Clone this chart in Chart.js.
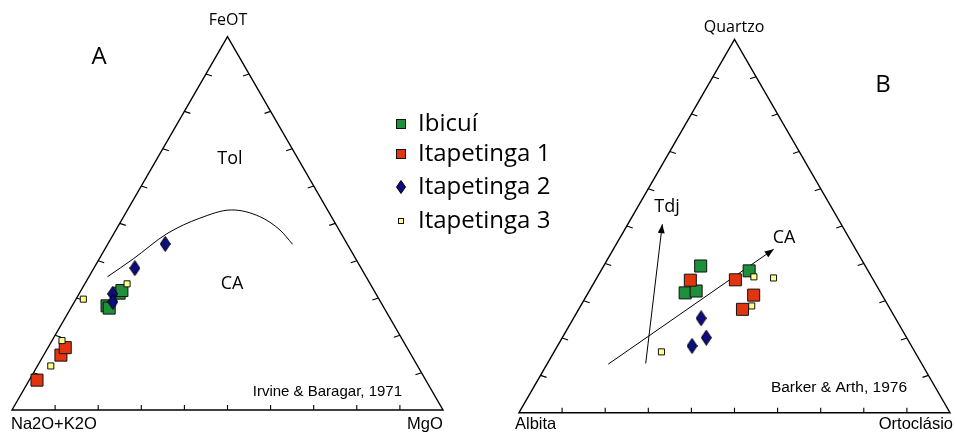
<!DOCTYPE html>
<html>
<head>
<meta charset="utf-8">
<script src="https://cdn.jsdelivr.net/npm/chart.js@4/dist/chart.umd.min.js"></script>
<style>
  html, body { margin: 0; padding: 0; background: #fff; }
  #tern { display: block; }
</style>
</head>
<body>
<canvas id="tern" width="955" height="432"></canvas>
<script>
// series names (legend order)
const seriesNames = ["Ibicuí", "Itapetinga 1", "Itapetinga 2", "Itapetinga 3"];

// diagram A (AFM): [Na2O+K2O, FeOT, MgO] in %
const ibicuiA = [[64.0, 27.9, 8.1], [63.8, 27.3, 8.9], [59.5, 31.3, 9.2], [58.5, 32.0, 9.5]];
const itap1A = [[90.2, 8.0, 1.8], [81.3, 14.7, 4.0], [79.3, 16.7, 4.0]];
const itap2A = [[42.2, 44.5, 13.3], [52.5, 38.0, 9.5], [61.1, 31.1, 7.8], [62.1, 29.0, 8.9]];
const itap3A = [[68.6, 29.7, 1.7], [79.1, 18.6, 2.3], [85.1, 11.8, 3.1], [56.4, 33.8, 9.8]];
// Irvine & Baragar (1971) tholeiitic / calc-alkaline divide
const irvineLine = [[60.0, 35.7, 4.3], [51.6, 40.5, 7.9], [40.5, 47.2, 12.3], [30.7, 51.4, 17.9],
  [22.2, 53.6, 24.2], [16.6, 51.8, 31.6], [13.7, 48.2, 38.1], [12.7, 44.4, 42.9]];

// diagram B: [Albita, Quartzo, Ortoclasio] in %
const ibicuiB = [[38.2, 39.3, 22.5], [45.4, 32.1, 22.5], [42.6, 32.6, 24.8], [27.6, 38.0, 34.4]];
const itap1B = [[42.5, 35.5, 22.0], [32.0, 35.6, 32.4], [29.8, 31.5, 38.7], [34.3, 27.7, 38.0]];
const itap2B = [[45.1, 25.3, 29.6], [46.5, 20.1, 33.4], [50.9, 17.9, 31.2]];
const itap3B = [[27.3, 36.4, 36.3], [22.9, 36.1, 41.0], [31.7, 28.6, 39.7], [58.8, 16.3, 24.9]];
// Barker & Arth (1976) trends
const tdjTrend = [[64.0, 13.2, 22.8], [41.5, 50.5, 8.0]];
const caTrend = [[72.8, 13.0, 14.2], [19.0, 43.8, 37.2]];

const PXU = 4.31;          // pixels per % unit
const SQ3 = Math.sqrt(3) / 2;
const originA = { x: 0, y: 0 };
const originB = { x: (519 - 12) / PXU, y: -(412.7 - 410) / PXU };

function toXY(origin, t) {
  return { x: origin.x + t[2] + t[1] / 2, y: origin.y + t[1] * SQ3 };
}
const both = (a, b) => a.map(t => toXY(originA, t)).concat(b.map(t => toXY(originB, t)));

const colors = ["#1f8f3c", "#e2350f", "#0d0d80", "#ffff8a"];

function diamond(w, h) {
  const c = document.createElement('canvas');
  c.width = w; c.height = h;
  const g = c.getContext('2d');
  g.beginPath();
  g.moveTo(w / 2, 0.5); g.lineTo(w - 0.5, h / 2); g.lineTo(w / 2, h - 0.5); g.lineTo(0.5, h / 2);
  g.closePath();
  g.fillStyle = colors[2]; g.fill();
  g.strokeStyle = "#000"; g.lineWidth = 1; g.stroke();
  return c;
}
const diaBig = diamond(11, 16);
const diaSmall = diamond(10, 14);

const lineDs = (pts, origin) => ({
  data: pts.map(t => toXY(origin, t)), showLine: true, pointRadius: 0,
  borderColor: "#000", borderWidth: 1, fill: false, order: 5
});

const frame = {
  id: 'frame',
  beforeDatasetsDraw(chart) {
    const ctx = chart.ctx, xs = chart.scales.x, ys = chart.scales.y;
    const P = (o, t) => { const q = toXY(o, t); return [xs.getPixelForValue(q.x), ys.getPixelForValue(q.y)]; };
    ctx.save();
    ctx.strokeStyle = "#000";
    [originA, originB].forEach(o => {
      const L = P(o, [100, 0, 0]), T = P(o, [0, 100, 0]), R = P(o, [0, 0, 100]);
      ctx.lineWidth = 1.4;
      ctx.beginPath(); ctx.moveTo(L[0], L[1]); ctx.lineTo(T[0], T[1]); ctx.lineTo(R[0], R[1]); ctx.closePath(); ctx.stroke();
      ctx.lineWidth = 1.1;
      for (let k = 10; k < 100; k += 10) {
        const b = P(o, [100 - k, 0, k]);
        const l = P(o, [100 - k, k, 0]);
        const r = P(o, [0, k, 100 - k]);
        ctx.beginPath();
        ctx.moveTo(b[0], b[1]); ctx.lineTo(b[0], b[1] - 5);
        ctx.moveTo(l[0], l[1]); ctx.lineTo(l[0] + 6, l[1] + 2);
        ctx.moveTo(r[0], r[1]); ctx.lineTo(r[0] - 6, r[1] + 2);
        ctx.stroke();
      }
    });
    // arrow heads
    ctx.fillStyle = "#000";
    [tdjTrend, caTrend].forEach(tr => {
      const a = P(originB, tr[0]), b = P(originB, tr[1]);
      const ang = Math.atan2(b[1] - a[1], b[0] - a[0]);
      ctx.save();
      ctx.translate(b[0], b[1]); ctx.rotate(ang);
      ctx.beginPath(); ctx.moveTo(0, 0); ctx.lineTo(-9, -3.5); ctx.lineTo(-9, 3.5); ctx.closePath(); ctx.fill();
      ctx.restore();
    });
    ctx.restore();
  },
  afterDraw(chart) {
    const ctx = chart.ctx;
    ctx.save();
    ctx.fillStyle = "#000";
    ctx.textBaseline = "middle";
    const txt = (s, x, y, font, align) => { ctx.font = font; ctx.textAlign = align || "center"; ctx.fillText(s, x, y); };
    const sans = "'Open Sans', sans-serif", arial = "'Liberation Sans', Arial, sans-serif";
    txt("FeOT", 228, 20, "16px " + sans);
    txt("Quartzo", 734, 27, "16px " + sans);
    txt("A", 99, 57, "24px " + sans);
    txt("B", 883, 85, "24px " + sans);
    txt("Tol", 230, 159, "18px " + sans);
    txt("CA", 232, 284, "18px " + sans);
    txt("Tdj", 667, 207, "18px " + sans);
    txt("CA", 784, 238, "18px " + sans);
    txt("Na2O+K2O", 11, 424, "16.5px " + arial, "left");
    txt("MgO", 425, 424, "16.5px " + arial);
    txt("Albita", 515, 424, "16.5px " + arial, "left");
    txt("Ortoclásio", 953, 424, "16.5px " + arial, "right");
    txt("Irvine & Baragar, 1971", 402, 392, "15px " + arial, "right");
    txt("Barker & Arth, 1976", 907, 388, "15.5px " + arial, "right");
    // legend
    const rows = [124, 154, 187, 221];
    ctx.lineWidth = 1; ctx.strokeStyle = "#111";
    rows.forEach((y, i) => {
      const x = 401;
      if (i === 2) {
        ctx.drawImage(diaSmall, x - 5, y - 7);
      } else {
        const s = i === 3 ? 6 : 10;
        ctx.fillStyle = colors[i];
        ctx.fillRect(x - s / 2, y - s / 2, s, s);
        ctx.strokeRect(x - s / 2 + 0.5, y - s / 2 + 0.5, s - 1, s - 1);
      }
      ctx.fillStyle = "#000";
      txt(seriesNames[i], 418, y, "24px " + sans, "left");
    });
    ctx.restore();
  }
};

const pointDs = (i, a, b, style, r, order) => ({
  label: seriesNames[i], data: both(a, b),
  pointStyle: style, pointRadius: r, pointHoverRadius: r,
  backgroundColor: colors[i], borderColor: "#111", borderWidth: 1, order: order
});

new Chart(document.getElementById('tern'), {
  type: 'scatter',
  data: {
    datasets: [
      pointDs(0, ibicuiA, ibicuiB, 'rect', 8.5, 3),
      pointDs(1, itap1A, itap1B, 'rect', 8.5, 2),
      pointDs(2, itap2A, itap2B, diaBig, 6, 1),
      pointDs(3, itap3A, itap3B, 'rect', 4.3, 0),
      Object.assign(lineDs(irvineLine, originA), { tension: 0.4, cubicInterpolationMode: 'monotone' }),
      lineDs(tdjTrend, originB),
      lineDs(caTrend, originB)
    ]
  },
  options: {
    responsive: false,
    animation: false,
    events: [],
    layout: { padding: 0, autoPadding: false },
    plugins: { legend: { display: false }, tooltip: { enabled: false } },
    scales: {
      x: { type: 'linear', display: false, min: -12 / PXU, max: (955 - 12) / PXU },
      y: { type: 'linear', display: false, min: -(432 - 410) / PXU, max: 410 / PXU }
    }
  },
  plugins: [frame]
});
</script>
</body>
</html>
